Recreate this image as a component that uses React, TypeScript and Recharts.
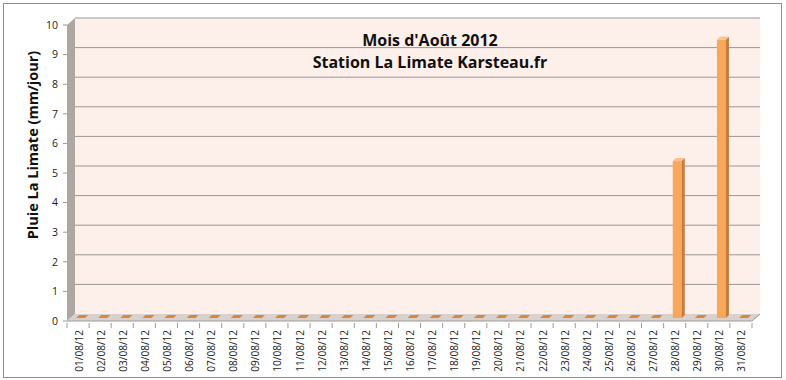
import React from "react";
import { BarChart, Bar, XAxis, YAxis, CartesianGrid, ReferenceArea } from "recharts";

const days = [
  "01/08/12", "02/08/12", "03/08/12", "04/08/12", "05/08/12", "06/08/12", "07/08/12", "08/08/12",
  "09/08/12", "10/08/12", "11/08/12", "12/08/12", "13/08/12", "14/08/12", "15/08/12", "16/08/12",
  "17/08/12", "18/08/12", "19/08/12", "20/08/12", "21/08/12", "22/08/12", "23/08/12", "24/08/12",
  "25/08/12", "26/08/12", "27/08/12", "28/08/12", "29/08/12", "30/08/12", "31/08/12",
];

const rain = [
  0, 0, 0, 0, 0, 0, 0, 0, 0, 0, 0, 0, 0, 0, 0, 0,
  0, 0, 0, 0, 0, 0, 0, 0, 0, 0, 0, 5.3, 0, 9.4, 0,
];

const yTicks = [0, 1, 2, 3, 4, 5, 6, 7, 8, 9, 10];

const titleLines = ["Mois d'Août 2012", "Station La Limate Karsteau.fr"];
const yLabel = "Pluie La Limate (mm/jour)";

const data = days.map((d, i) => ({ day: d, rain: rain[i] }));

// perspective offset of the back wall
const DX = 8;
const DY = -7;
const FONT = "'Open Sans', 'DejaVu Sans', sans-serif";

function Walls(props: any) {
  const { x, y, width, height } = props;
  const bottom = y + height;
  const right = x + width;
  return (
    <g>
      <rect x={x + DX} y={y + DY} width={width} height={height} fill="#fdf0eb" />
      <polygon
        points={`${x},${y} ${x + DX},${y + DY} ${x + DX},${bottom + DY} ${x},${bottom}`}
        fill="#aea6a3"
      />
      <polygon
        points={`${x},${bottom} ${x + DX},${bottom + DY} ${right + DX},${bottom + DY} ${right},${bottom}`}
        fill="#d8d1ce"
      />
      <line x1={x} y1={bottom} x2={right} y2={bottom} stroke="#9a9a9a" />
      <line x1={right} y1={bottom} x2={right + DX} y2={bottom + DY} stroke="#9a9a9a" />
    </g>
  );
}

function Box3D(props: any) {
  const { x, y, width, height } = props;
  if (x == null || y == null) return null;
  const h = Math.max(0, height || 0);
  const fx = x + 2.5;
  const fy = y - 3;
  const d = 3;
  const w = width;
  if (h < 0.5) {
    return (
      <polygon
        points={`${fx},${fy} ${fx + d},${fy - d} ${fx + w + d},${fy - d} ${fx + w},${fy}`}
        fill="#d9873f"
      />
    );
  }
  return (
    <g>
      <rect x={fx} y={fy} width={w} height={h} fill="#f9a75a" />
      <polygon
        points={`${fx + w},${fy} ${fx + w + d},${fy - d} ${fx + w + d},${fy + h - d} ${fx + w},${fy + h}`}
        fill="#c47b3c"
      />
      <polygon
        points={`${fx},${fy} ${fx + d},${fy - d} ${fx + w + d},${fy - d} ${fx + w},${fy}`}
        fill="#fbc08a"
      />
    </g>
  );
}

function XTick(props: any) {
  const { x, y, payload, index } = props;
  const half = payload?.offset || 11;
  const isLast = index === days.length - 1;
  return (
    <g>
      <line x1={x - half} y1={y - 5} x2={x - half} y2={y} stroke="#9a9a9a" />
      {isLast && <line x1={x + half} y1={y - 5} x2={x + half} y2={y} stroke="#9a9a9a" />}
      <text
        x={x + 1}
        y={y + 2}
        transform={`rotate(-90 ${x + 1} ${y + 2})`}
        textAnchor="end"
        dy="0.35em"
        fontSize={10}
        fontFamily={FONT}
        fill="#1a1a1a"
      >
        {payload.value}
      </text>
    </g>
  );
}

function YLabel(props: any) {
  const vb = props.viewBox || { x: 27, y: 25, width: 40, height: 296 };
  const cx = vb.x + 5;
  const cy = vb.y + 120;
  return (
    <text
      x={cx}
      y={cy}
      transform={`rotate(-90 ${cx} ${cy})`}
      textAnchor="middle"
      dominantBaseline="central"
      fontSize={14.5}
      fontWeight="bold"
      fontFamily={FONT}
      fill="#111"
    >
      {yLabel}
    </text>
  );
}

export default function App() {
  return (
    <div style={{ position: "absolute", left: 0, top: 0, width: 786, height: 380, background: "#fff" }}>
      <div
        style={{
          position: "absolute",
          left: 3,
          top: 3,
          width: 777,
          height: 373,
          border: "1px solid #8f8f8f",
        }}
      />
      <BarChart
        width={786}
        height={380}
        data={data}
        margin={{ top: 25, right: 34, bottom: 4, left: 27 }}
        barCategoryGap="30%"
      >
        <ReferenceArea y1={0} y2={10} shape={<Walls />} zIndex={-200} ifOverflow="visible" />
        <CartesianGrid
          vertical={false}
          horizontal={(p: any) =>
            p.index === 0 ? (
              <g key={p.key} />
            ) : (
              <line
                key={p.key}
                x1={p.x1 + DX}
                y1={p.y1 + DY}
                x2={p.x2 + DX}
                y2={p.y2 + DY}
                stroke="#9c9694"
                strokeWidth={1}
              />
            )
          }
        />
        <XAxis
          dataKey="day"
          interval={0}
          height={55}
          axisLine={false}
          tickLine={false}
          tickSize={5}
          tick={<XTick />}
        />
        <YAxis
          domain={[0, 10]}
          ticks={yTicks}
          width={40}
          axisLine={false}
          tickSize={4}
          tickMargin={5}
          tickLine={{ stroke: "#9a9a9a" }}
          tick={{ fontSize: 10.5, fill: "#1a1a1a", fontFamily: FONT }}
          label={<YLabel />}
        />
        <Bar dataKey="rain" isAnimationActive={false} shape={<Box3D />} />
      </BarChart>
      {titleLines.map((t, i) => (
        <div
          key={t}
          style={{
            position: "absolute",
            left: 230,
            width: 400,
            top: 30 + i * 22,
            textAlign: "center",
            fontFamily: FONT,
            fontWeight: "bold",
            fontSize: 16,
            color: "#111",
            lineHeight: "20px",
          }}
        >
          {t}
        </div>
      ))}
    </div>
  );
}
